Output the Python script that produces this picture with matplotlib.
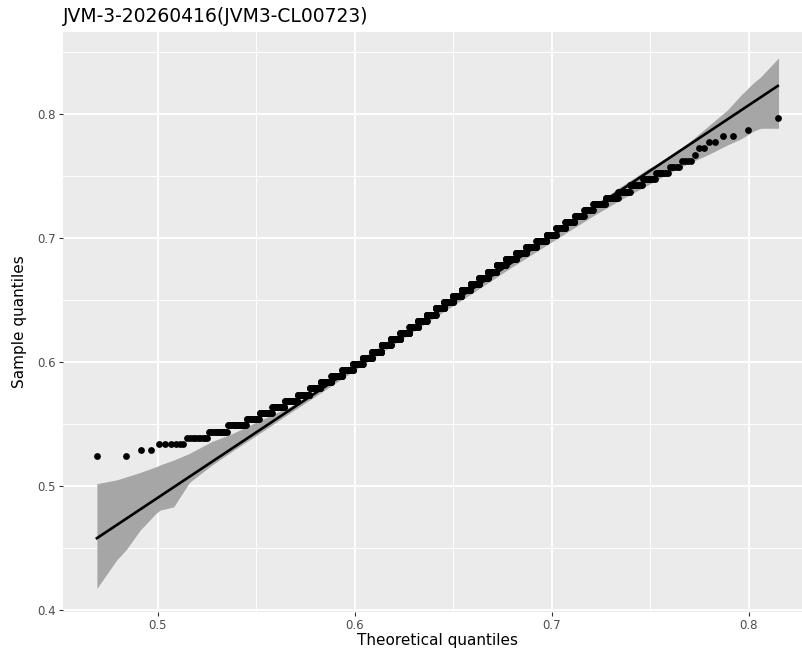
import matplotlib
matplotlib.use("Agg")
import matplotlib.pyplot as plt
from statistics import NormalDist

plt.rcParams['font.family'] = ['DejaVu Sans']

# observed sample values (distinct levels) and number of observations at each
sample_levels = [0.5242, 0.5292, 0.5341, 0.5391, 0.5440, 0.5490, 0.5540, 0.5589,
                 0.5639, 0.5688, 0.5738, 0.5788, 0.5837, 0.5887, 0.5936, 0.5986,
                 0.6036, 0.6085, 0.6135, 0.6184, 0.6234, 0.6284, 0.6333, 0.6383,
                 0.6432, 0.6482, 0.6532, 0.6581, 0.6631, 0.6680, 0.6730, 0.6780,
                 0.6829, 0.6879, 0.6928, 0.6978, 0.7028, 0.7077, 0.7127, 0.7176,
                 0.7226, 0.7276, 0.7325, 0.7375, 0.7424, 0.7474, 0.7524, 0.7573,
                 0.7623, 0.7672, 0.7722, 0.7772, 0.7821, 0.7871, 0.7970]
level_counts = [2, 2, 6, 9, 13, 19, 18, 22,
                28, 34, 39, 41, 46, 52, 58, 57,
                59, 64, 66, 70, 70, 69, 69, 73,
                70, 70, 69, 70, 65, 64, 61, 60,
                63, 57, 53, 47, 40, 34, 30, 27,
                22, 26, 21, 16, 13, 10, 8, 5,
                4, 1, 2, 2, 2, 1, 1]

# normal distribution used for the theoretical quantiles
theo_mean = 0.6418
theo_sd = 0.0497

# reference line
line_x = [0.469, 0.8146]
line_y = [0.458, 0.8226]

# confidence band
band_x = [0.469, 0.479, 0.484, 0.491, 0.499, 0.501, 0.508, 0.516, 0.527, 0.538,
          0.552, 0.567, 0.58, 0.60, 0.62, 0.64, 0.66, 0.68, 0.70, 0.72,
          0.735, 0.749, 0.759, 0.769, 0.779, 0.789, 0.796, 0.802, 0.806, 0.815]
band_lo = [0.4175, 0.4403, 0.449, 0.4645, 0.478, 0.4806, 0.4833, 0.503, 0.5165, 0.5285,
           0.543, 0.559, 0.5725, 0.5935, 0.6145, 0.6355, 0.656, 0.677, 0.697, 0.717,
           0.731, 0.743, 0.752, 0.760, 0.767, 0.775, 0.780, 0.786, 0.7885, 0.7885]
band_hi = [0.502, 0.505, 0.5075, 0.511, 0.5156, 0.517, 0.521, 0.5264, 0.5357, 0.5425,
           0.5532, 0.564, 0.5775, 0.5995, 0.6205, 0.641, 0.6615, 0.6825, 0.704, 0.7255,
           0.7415, 0.756, 0.7643, 0.7764, 0.7898, 0.8032, 0.8153, 0.8247, 0.83, 0.8452]

# build the qq points
sample = []
for v, c in zip(sample_levels, level_counts):
    sample += [v] * c
n = len(sample)
dist = NormalDist(theo_mean, theo_sd)
theo = [dist.inv_cdf((i + 0.5) / n) for i in range(n)]

fig = plt.figure(figsize=(8.03, 6.5), dpi=100)
ax = fig.add_axes([63 / 803, 1 - 612 / 650, 749.6 / 803, 580 / 650])
ax.set_facecolor('#EBEBEB')

ax.fill_between(band_x, band_lo, band_hi, color='#A6A6A6', lw=0, zorder=2)
ax.scatter(theo, sample, s=24, color='black', lw=0, zorder=3)
ax.plot(line_x, line_y, color='black', lw=1.9, zorder=4)

ax.set_xlim(0.4518, 0.8323)
ax.set_ylim(0.3985, 0.8661)

ax.set_xticks([0.5, 0.6, 0.7, 0.8])
ax.set_xticklabels(['0.5', '0.6', '0.7', '0.8'])
ax.set_yticks([0.4, 0.5, 0.6, 0.7, 0.8])
ax.set_yticklabels(['0.4', '0.5', '0.6', '0.7', '0.8'])
ax.set_xticks([0.55, 0.65, 0.75], minor=True)
ax.set_yticks([0.45, 0.55, 0.65, 0.75, 0.85], minor=True)
ax.grid(which='major', color='white', lw=1.4)
ax.grid(which='minor', color='white', lw=0.7)
ax.set_axisbelow(True)
ax.tick_params(which='major', length=3, width=0.8, color='#333333',
               labelsize=8.5, labelcolor='#4D4D4D', pad=2)
ax.tick_params(which='minor', length=0)
for s in ax.spines.values():
    s.set_visible(False)

ax.set_xlabel('Theoretical quantiles', fontsize=11, va='center')
ax.xaxis.set_label_coords(0.5, (10 - 38) / 580)
ax.set_ylabel('Sample quantiles', fontsize=11, va='center')
ax.yaxis.set_label_coords((20 - 63) / 749.6, 0.5)
fig.text(63 / 803, 1 - 22 / 650, 'JVM-3-20260416(JVM3-CL00723)', fontsize=13.5,
         ha='left', va='baseline')

fig.savefig('out.png', dpi=100)
